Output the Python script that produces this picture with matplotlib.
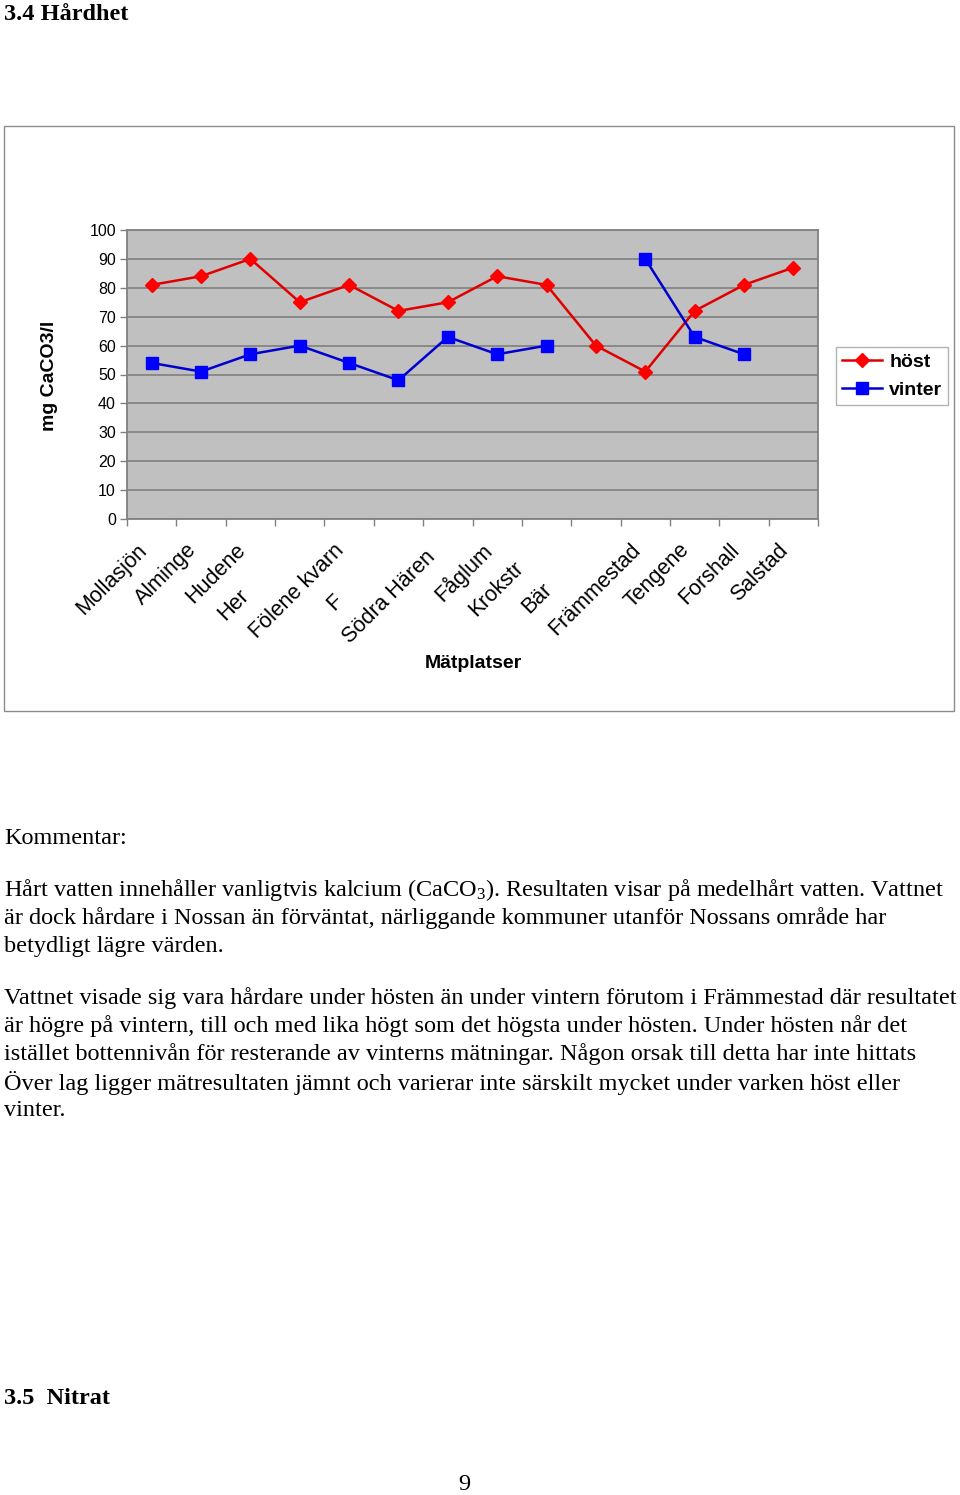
##########  IMPORTS  ##########
import numpy as np
import matplotlib
matplotlib.use("Agg")
import matplotlib.pyplot as plt
import matplotlib.patches as patches
import matplotlib.transforms as mtransforms

### Data ###
platser = ["Mollasjön", "Alminge", "Hudene", "Her", "Fölene kvarn", "F",
           "Södra Hären", "Fåglum", "Krokstr", "Bär", "Främmestad",
           "Tengene", "Forshall", "Salstad"]
klippt = [False, False, False, True, False, True, True, False, True, True,
          False, False, False, False]     # labels cut off in the original
host = [81, 84, 90, 75, 81, 72, 75, 84, 81, 60, 51, 72, 81, 87]
vinter = [54, 51, 57, 60, 54, 48, 63, 57, 60, np.nan, 90, 63, 57, np.nan]
yticks = [0, 10, 20, 30, 40, 50, 60, 70, 80, 90, 100]

# how far back (px) the start of a cut label sits from the tick
klipp_len = {3: 99, 5: 85, 6: 132, 8: 94, 9: 89}

plt.rcParams['mathtext.fontset'] = 'custom'
plt.rcParams['mathtext.rm'] = 'Liberation Serif'
plt.rcParams['mathtext.it'] = 'Liberation Serif:italic'

W, H = 960, 1495
fig = plt.figure(figsize=(W / 100, H / 100), dpi=100)

def fx(px):
	return px / W

def fy(py):
	return 1 - py / H

### Chart frame ###
fig.patches.append(patches.Rectangle((fx(4), fy(711)), fx(954) - fx(4), fy(126) - fy(711),
                                     transform=fig.transFigure, fill=False,
                                     edgecolor="#8c8c8c", linewidth=1.0))

### Plot ###
ax = fig.add_axes([fx(127), fy(519), fx(818) - fx(127), fy(230) - fy(519)])
ax.set_facecolor("#c0c0c0")
x = np.arange(len(platser))
ax.plot(x, host, color="#e00000", linewidth=1.8, marker="D", markersize=7.5,
        markerfacecolor="#ff0000", markeredgecolor="#ff0000", label="höst", zorder=3)
ax.plot(x, vinter, color="#0000d0", linewidth=1.8, marker="s", markersize=9,
        markerfacecolor="#0000ff", markeredgecolor="#0000ff", label="vinter", zorder=3)

ax.set_xlim(-0.5, len(platser) - 0.5)
ax.set_ylim(0, 100)
ax.set_yticks(yticks)
ax.set_yticklabels([str(v) for v in yticks], fontsize=11.5, family="Liberation Sans")
ax.yaxis.grid(True, color="#808080", linewidth=1.2)
ax.set_axisbelow(True)
ax.set_xticks(np.arange(len(platser) + 1) - 0.5)
ax.set_xticklabels([])
ax.tick_params(axis="both", direction="out", length=5, color="#808080", width=1, pad=3)
for s in ax.spines.values():
	s.set_color("#808080")
	s.set_linewidth(1.3)

### x labels, rotated ###
trans = mtransforms.blended_transform_factory(ax.transData, ax.transAxes)
for i, namn in enumerate(platser):
	if klippt[i]:
		d = klipp_len[i] / np.sqrt(2) / 100.0
		off = mtransforms.ScaledTranslation(-8 / 100.0 - d, -28 / 100.0 - d, fig.dpi_scale_trans)
		ax.text(i, 0, namn, transform=trans + off, rotation=45, rotation_mode="anchor",
		        ha="left", va="center", fontsize=15.5, family="Liberation Sans")
	else:
		off = mtransforms.ScaledTranslation(-8 / 100.0, -28 / 100.0, fig.dpi_scale_trans)
		ax.text(i, 0, namn, transform=trans + off, rotation=45, rotation_mode="anchor",
		        ha="right", va="center", fontsize=15.5, family="Liberation Sans")

fig.text(fx(473), fy(663), "Mätplatser", ha="center", va="center", fontsize=14,
         fontweight="bold", family="Liberation Sans")
fig.text(fx(50), fy(376), "mg CaCO3/l", ha="center", va="center", rotation=90,
         fontsize=14, fontweight="bold", family="Liberation Sans")

leg = fig.legend(loc="center", bbox_to_anchor=(fx(892), fy(376)), frameon=True,
                 prop={"family": "Liberation Sans", "weight": "bold", "size": 14},
                 handlelength=2.1, handletextpad=0.35, borderpad=0.3, labelspacing=0.55,
                 fancybox=False, borderaxespad=0)
leg.get_frame().set_edgecolor("#a0a0a0")
leg.get_frame().set_linewidth(1.0)

### Page text ###
serif = "Liberation Serif"
fs = 17.5
fig.text(fx(4), fy(14), "3.4 Hårdhet", ha="left", va="center", fontsize=fs,
         fontweight="bold", family=serif)
fig.text(fx(4), fy(838), "Kommentar:", ha="left", va="center", fontsize=fs, family=serif)

rader = [
	(890, "Hårt vatten innehåller vanligtvis kalcium (CaCO$_\\mathrm{3}$). Resultaten visar på medelhårt vatten. Vattnet"),
	(918, "är dock hårdare i Nossan än förväntat, närliggande kommuner utanför Nossans område har"),
	(946, "betydligt lägre värden."),
	(998, "Vattnet visade sig vara hårdare under hösten än under vintern förutom i Främmestad där resultatet"),
	(1026, "är högre på vintern, till och med lika högt som det högsta under hösten. Under hösten når det"),
	(1054, "istället bottennivån för resterande av vinterns mätningar. Någon orsak till detta har inte hittats"),
	(1083, "Över lag ligger mätresultaten jämnt och varierar inte särskilt mycket under varken höst eller"),
	(1111, "vinter."),
]
for yy, txt in rader:
	fig.text(fx(4), fy(yy), txt, ha="left", va="center", fontsize=fs, family=serif)

fig.text(fx(4), fy(1398), "3.5  Nitrat", ha="left", va="center", fontsize=fs,
         fontweight="bold", family=serif)
fig.text(fx(464), fy(1484), "9", ha="center", va="center", fontsize=fs, family=serif)

fig.savefig("out.png", dpi=100)
